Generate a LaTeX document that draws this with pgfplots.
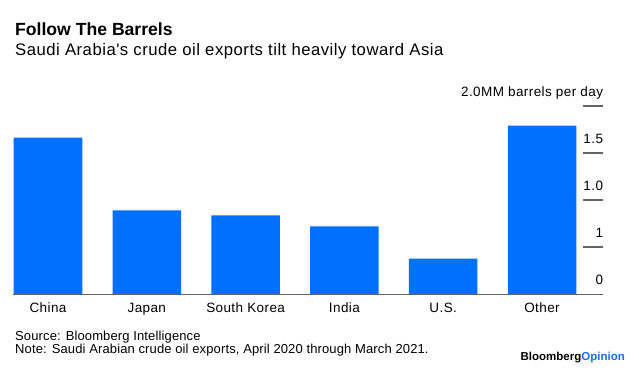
\documentclass[border=0pt]{standalone}
\usepackage{fontspec}
\setmainfont{Liberation Sans}
\newfontfamily\wideA[LetterSpace=3]{Liberation Sans}
\newfontfamily\wideB[LetterSpace=1]{Liberation Sans}
\usepackage{pgfplots}
\pgfplotsset{compat=1.18}
\definecolor{barblue}{RGB}{0,112,255}
\definecolor{opblue}{RGB}{20,110,245}
\definecolor{axgray}{RGB}{100,100,100}
\begin{document}
\begin{tikzpicture}
\path[use as bounding box] (0,0) rectangle (639pt,370pt);
\begin{axis}[
  at={(48pt,76pt)}, anchor=origin,
  x=98.8pt, y=94pt,
  xmin=-0.35, xmax=5.62, ymin=0, ymax=2,
  enlargelimits=false, clip=false,
  axis x line=bottom, axis y line=right,
  x axis line style={draw=axgray, -, line width=0.8pt},
  y axis line style={draw=none},
  ybar, bar width=68.5pt, bar shift=0pt,
  xtick={0,1,2,3,4,5},
  xticklabels={China,Japan,South Korea,India,U.S.,Other},
  x tick style={draw=none},
  xticklabel style={anchor=base, inner sep=0pt, yshift=-18.7pt, font=\wideA\fontsize{13.5}{15}\selectfont},
  ytick={0,0.5,1,1.5,2},
  yticklabels={0,1,1.0,1.5,2.0MM barrels per day},
  ytick pos=right, tick align=inside, major tick length=20pt,
  y tick style={draw=none},
  yticklabel style={anchor=base east, inner sep=0pt, xshift=0pt, yshift=9.4pt, font=\wideA\fontsize{13.5}{15}\selectfont},
]
\addplot[fill=barblue, draw=none] coordinates {(0,1.663) (1,0.89) (2,0.837) (3,0.72) (4,0.376) (5,1.79)};
\end{axis}
% tick marks of the right-hand value scale (axis furniture)
\fill[axgray] (583pt,122.4pt) rectangle (603pt,123.6pt);
\fill[axgray] (583pt,169.4pt) rectangle (603pt,170.6pt);
\fill[axgray] (583pt,216.4pt) rectangle (603pt,217.6pt);
\fill[axgray] (583pt,263.4pt) rectangle (603pt,264.6pt);
\node[anchor=base west, inner sep=0pt, font=\fontsize{17.6}{20}\selectfont\bfseries] at (15pt,334.3pt) {Follow The Barrels};
\node[anchor=base west, inner sep=0pt, font=\wideA\fontsize{16.7}{18}\selectfont] at (15pt,314pt) {Saudi Arabia's crude oil exports tilt heavily toward Asia};
\node[anchor=base west, inner sep=0pt, font=\wideB\fontsize{13}{15}\selectfont] at (15pt,30pt) {Source: Bloomberg Intelligence};
\node[anchor=base west, inner sep=0pt, font=\wideB\fontsize{13}{15}\selectfont] at (15pt,16.7pt) {Note: Saudi Arabian crude oil exports, April 2020 through March 2021.};
\node[anchor=base east, inner sep=0pt, font=\fontsize{11.5}{14}\selectfont\bfseries] at (625pt,9.3pt) {Bloomberg\textcolor{opblue}{Opinion}};
\end{tikzpicture}
\end{document}
